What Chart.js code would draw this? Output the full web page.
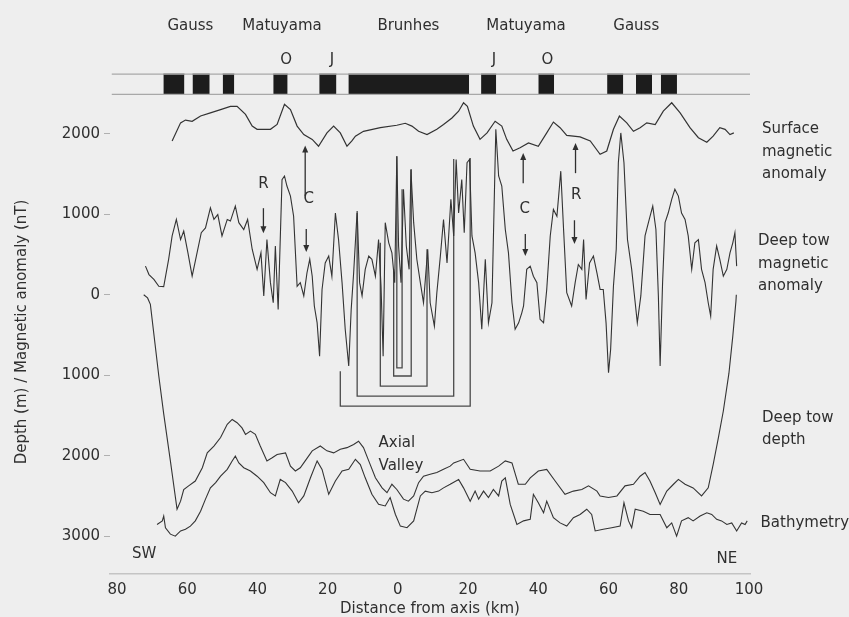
<!DOCTYPE html>
<html>
<head>
<meta charset="utf-8">
<script src="https://cdn.jsdelivr.net/npm/chart.js@4.4.0/dist/chart.umd.min.js"></script>
<style>
  html, body { margin: 0; padding: 0; background: #eeeeee; }
  #wrap { width: 849px; height: 617px; }
</style>
</head>
<body>
<div id="wrap"><canvas id="profile" width="849" height="617"></canvas></div>
<script>
// [distance from axis (km, SW negative), value]
const surfaceAnomaly = [
  [-64.3,1910],[-61.9,2135],[-60.5,2170],[-58.6,2155],[-56.2,2220],[-53.4,2260],[-50.5,2300],[-47.7,2340],
  [-45.8,2340],[-43.4,2240],[-41.5,2095],[-40.1,2055],[-36.3,2055],[-34.4,2115],[-32.3,2365],[-30.6,2300],
  [-28.7,2095],[-26.8,1990],[-24.4,1930],[-22.6,1845],[-20.2,2010],[-18.3,2095],[-16.4,2010],[-14.5,1845],
  [-13.1,1910],[-12.1,1970],[-9.8,2030],[-5.0,2075],[-0.3,2105],[2.1,2130],[4.0,2095],[5.9,2030],
  [8.3,1990],[11.1,2055],[13.0,2115],[15.4,2195],[17.3,2280],[18.7,2385],[19.8,2340],[21.5,2095],
  [23.4,1930],[25.4,2010],[27.7,2155],[29.6,2095],[31.0,1930],[32.8,1785],[34.8,1825],[37.2,1885],
  [40.0,1845],[42.4,2010],[44.3,2145],[46.2,2075],[48.1,1980],[51.9,1960],[54.8,1910],[57.6,1745],
  [59.5,1785],[61.4,2055],[63.1,2220],[65.2,2135],[67.1,2030],[69.0,2075],[70.9,2135],[73.3,2115],
  [75.6,2280],[78.0,2385],[80.4,2260],[83.2,2075],[85.6,1950],[88.0,1895],[89.8,1970],[91.7,2075],
  [93.2,2055],[94.6,1990],[95.7,2010]
];

const deepTowAnomaly = [
  [-71.9,355],[-70.9,250],[-69.5,190],[-68.1,105],[-66.7,100],[-65.3,440],[-64.3,730],[-63.1,935],
  [-61.9,685],[-61.0,790],[-59.8,520],[-58.6,230],[-57.4,480],[-56.0,770],[-54.8,830],[-53.4,1080],
  [-52.4,935],[-51.3,995],[-50.1,730],[-48.6,935],[-47.7,915],[-46.3,1100],[-45.3,895],[-43.9,810],
  [-42.8,935],[-41.5,565],[-40.1,315],[-39.0,520],[-38.2,-15],[-37.3,685],[-36.3,150],[-35.5,-100],
  [-34.9,605],[-34.1,-185],[-33.0,1430],[-32.3,1475],[-31.6,1350],[-30.6,1225],[-29.7,975],[-28.7,105],
  [-27.8,150],[-26.8,-15],[-25.9,270],[-25.1,440],[-24.4,230],[-23.8,-140],[-23.0,-350],[-22.3,-765],
  [-21.6,65],[-20.7,395],[-19.7,480],[-18.8,230],[-17.8,1015],[-16.9,685],[-15.9,150],[-15.0,-430],
  [-14.0,-885],[-13.3,-185],[-12.6,270],[-11.6,1040],[-10.9,150],[-10.2,-15],[-9.3,315],[-8.3,480],
  [-7.4,440],[-6.4,230],[-5.5,685],[-4.8,105],[-4.2,-765],[-3.6,895],[-2.6,645],[-1.7,520],
  [-0.9,150],[-0.3,1720],[0.2,605],[0.9,150],[1.6,1310],[2.4,605],[3.2,315],[3.7,1555],
  [4.5,895],[5.4,440],[6.4,150],[7.3,-100],[8.5,565],[9.2,-100],[10.4,-390],[11.1,25],
  [12.1,480],[13.0,935],[14.0,395],[15.1,1185],[15.9,730],[16.6,1680],[17.3,1015],[18.2,1430],
  [18.9,770],[19.7,1640],[20.4,1680],[21.1,730],[22.0,520],[23.0,150],[23.9,-430],[24.9,440],
  [25.8,-350],[26.8,-100],[27.9,2055],[28.7,1475],[29.6,1350],[30.6,810],[31.5,520],[32.5,-100],
  [33.4,-430],[34.4,-350],[35.3,-225],[35.8,-140],[36.7,315],[37.7,355],[38.6,230],[39.6,150],
  [40.5,-305],[41.5,-350],[42.4,65],[43.4,730],[44.3,1060],[45.3,975],[46.4,1535],[47.2,810],
  [48.1,25],[49.5,-140],[50.5,150],[51.4,375],[52.4,315],[52.9,685],[53.6,-60],[54.6,395],
  [55.7,480],[56.7,270],[57.6,65],[58.5,65],[59.3,-350],[60.0,-970],[60.6,-680],[61.4,105],
  [62.2,565],[62.8,1640],[63.5,2010],[64.4,1640],[65.4,685],[66.6,315],[67.6,-100],[68.2,-350],
  [69.2,-15],[70.4,730],[71.6,935],[72.6,1100],[73.5,810],[74.2,-15],[74.7,-885],[75.4,150],
  [76.1,895],[77.0,1015],[78.0,1185],[78.9,1310],[79.9,1225],[80.8,1015],[81.8,935],[82.7,730],
  [83.7,315],[84.6,645],[85.6,685],[86.5,315],[87.5,150],[88.4,-100],[89.1,-265],[89.8,315],
  [90.8,605],[91.7,440],[92.7,230],[93.7,315],[94.6,520],[95.4,645],[96.0,770],[96.5,355]
];

// depths in metres (positive down)
const deepTowDepth = [
  [-72.4,0],[-71.3,40],[-70.5,120],[-68.1,1010],[-66.7,1480],[-64.8,2065],[-62.9,2665],[-61.9,2565],
  [-61.0,2420],[-59.6,2375],[-57.7,2315],[-55.7,2150],[-54.3,1965],[-52.4,1880],[-50.5,1775],[-48.6,1610],
  [-47.2,1550],[-45.8,1590],[-44.4,1655],[-43.4,1735],[-42.0,1695],[-40.6,1735],[-39.2,1880],[-37.3,2065],
  [-35.8,2025],[-34.4,1985],[-32.0,1965],[-30.6,2130],[-29.2,2190],[-27.8,2150],[-26.4,2065],[-24.4,1940],
  [-22.1,1880],[-20.2,1940],[-18.3,1965],[-16.4,1920],[-14.5,1900],[-12.6,1860],[-11.2,1820],[-9.8,1900],
  [-8.3,2065],[-6.4,2275],[-4.5,2400],[-3.1,2460],[-1.7,2355],[-0.3,2420],[1.6,2540],[3.0,2565],
  [4.5,2500],[5.9,2335],[7.3,2255],[9.2,2230],[11.1,2210],[13.0,2170],[14.9,2130],[15.9,2090],
  [18.7,2045],[20.6,2170],[23.4,2190],[26.3,2190],[28.7,2130],[30.6,2065],[32.5,2090],[34.3,2355],
  [36.3,2355],[37.7,2275],[40.0,2190],[42.4,2170],[44.8,2315],[47.6,2480],[50.0,2440],[52.4,2420],
  [54.3,2375],[56.7,2440],[57.6,2500],[60.0,2520],[62.4,2500],[64.7,2375],[67.1,2355],[69.0,2255],
  [70.4,2210],[71.8,2315],[73.3,2460],[74.7,2605],[76.6,2440],[78.5,2355],[79.9,2295],[81.8,2355],
  [84.1,2400],[86.5,2500],[88.4,2400],[89.8,2110],[91.3,1775],[92.7,1445],[94.3,975],[95.4,515],
  [96.3,80],[96.4,0]
];

const bathymetry = [
  [-68.6,2855],[-67.1,2810],[-66.7,2750],[-66.2,2895],[-64.8,2975],[-63.4,3000],[-61.9,2935],[-60.5,2915],
  [-59.1,2875],[-57.7,2810],[-56.2,2690],[-54.8,2540],[-53.4,2400],[-51.9,2335],[-50.5,2255],[-48.6,2170],
  [-47.2,2065],[-46.3,2005],[-45.3,2090],[-43.9,2150],[-42.0,2190],[-40.1,2255],[-38.2,2335],[-36.3,2460],
  [-34.9,2500],[-33.5,2295],[-32.0,2335],[-30.1,2440],[-28.3,2585],[-26.8,2500],[-24.9,2275],[-23.0,2065],
  [-21.6,2170],[-19.7,2480],[-17.8,2315],[-15.9,2190],[-14.0,2170],[-12.1,2045],[-10.7,2110],[-9.3,2275],
  [-7.4,2480],[-5.5,2605],[-3.6,2625],[-2.2,2520],[-0.7,2730],[0.7,2875],[2.6,2895],[4.5,2810],
  [6.4,2500],[7.8,2440],[9.7,2460],[11.6,2440],[13.0,2400],[14.9,2355],[17.3,2295],[18.7,2400],
  [20.6,2565],[22.0,2440],[23.0,2540],[24.4,2440],[25.8,2520],[27.2,2420],[28.7,2500],[29.6,2315],
  [30.6,2275],[32.0,2605],[33.9,2855],[35.8,2810],[37.7,2790],[38.6,2480],[40.0,2585],[41.5,2710],
  [42.4,2565],[44.3,2770],[46.2,2835],[48.1,2875],[50.0,2770],[51.9,2730],[53.8,2665],[55.2,2730],
  [56.2,2935],[58.5,2915],[60.9,2895],[63.3,2875],[64.4,2585],[65.7,2810],[66.6,2895],[67.6,2665],
  [69.9,2690],[71.8,2730],[74.7,2730],[76.6,2895],[78.0,2835],[79.4,3000],[80.8,2810],[82.7,2770],
  [84.1,2810],[86.1,2750],[88.0,2710],[89.4,2730],[90.8,2790],[92.2,2810],[93.7,2855],[95.1,2835],
  [96.5,2935],[97.9,2835],[98.9,2855],[99.5,2810]
];

// normal polarity blocks (km)
const normalStart = [-66.8, -58.5, -49.9, -35.5, -22.4, -14.1, 23.7, 40.0, 59.6, 67.8, 74.9];
const normalEnd   = [-60.8, -53.6, -46.6, -31.4, -17.5, 20.3, 28.0, 44.5, 64.2, 72.4, 79.5];

// correlation brackets between symmetric anomalies
const bracketLeftKm   = [-16.4, -11.6, -5.0, -1.2, -0.3];
const bracketRightKm  = [20.6, 15.9, 8.3, 3.8, 1.2];
const bracketBottom   = [-1385, -1260, -1135, -1010, -910];
const bracketTopLeft  = [-950, 1015, 645, 320, 1720];
const bracketTopRight = [1700, 1685, 565, 1560, 1310];

const chronNames = ['Gauss', 'Matuyama', 'Brunhes', 'Matuyama', 'Gauss'];
const chronKm = [-59.1, -33.0, 3.0, 36.5, 67.9];
const eventNames = ['O', 'J', 'J', 'O'];
const eventKm = [-31.8, -18.8, 27.4, 42.6];

// arrows: x (km), tail and head (nT)
const arrowKm   = [-38.3, -26.4, -26.1, 35.7, 36.3, 50.6, 50.3];
const arrowFrom = [1075, 1225, 815, 1385, 755, 1510, 925];
const arrowTo   = [765, 1855, 530, 1760, 480, 1885, 630];
const arrowTags = ['R', 'C', 'C', 'R'];
const arrowTagKm = [-38.3, -25.4, 36.1, 50.8];
const arrowTagY = [1370, 1185, 1060, 1235];

const xTicks = [-80, -60, -40, -20, 0, 20, 40, 60, 80, 100];
const yTicks = [2000, 1000, 0, -1000, -2000, -3000];

const INK = '#2f2f2f';
const FONT = '15px "DejaVu Sans"';
const STRIP_TOP = 2740, STRIP_BOTTOM = 2490;

Chart.defaults.font.family = '"DejaVu Sans"';
Chart.defaults.font.size = 15;
Chart.defaults.color = INK;

function curve(pts, sign) {
    return pts.map(p => ({ x: p[0], y: sign * p[1] }));
}

function lineSet(data, color, width) {
    return { data: data, borderColor: color, borderWidth: width, pointRadius: 0, fill: false, tension: 0 };
}

const datasets = [];

// polarity strip outline
datasets.push(lineSet([{ x: -81.5, y: STRIP_TOP }, { x: 100.3, y: STRIP_TOP }], '#a8a8a8', 1.2));
datasets.push(lineSet([{ x: -81.5, y: STRIP_BOTTOM }, { x: 100.3, y: STRIP_BOTTOM }], '#a8a8a8', 1.2));
normalStart.forEach((s, i) => {
    datasets.push({
        data: [{ x: s, y: STRIP_TOP }, { x: normalEnd[i], y: STRIP_TOP }],
        borderColor: '#1c1c1c', borderWidth: 1, pointRadius: 0,
        backgroundColor: '#1c1c1c', fill: { value: STRIP_BOTTOM }
    });
});

datasets.push(lineSet(curve(surfaceAnomaly, 1), '#333', 1.2));
datasets.push(lineSet(curve(deepTowAnomaly, 1), '#333', 1.1));
datasets.push(lineSet(curve(deepTowDepth, -1), '#333', 1.1));
datasets.push(lineSet(curve(bathymetry, -1), '#333', 1.1));

bracketLeftKm.forEach((l, i) => {
    datasets.push(lineSet([
        { x: l, y: bracketTopLeft[i] },
        { x: l, y: bracketBottom[i] },
        { x: bracketRightKm[i], y: bracketBottom[i] },
        { x: bracketRightKm[i], y: bracketTopRight[i] }
    ], '#4a4a4a', 1.3));
});

// text, arrows and axis titles
const overlay = {
    id: 'overlay',
    afterDraw(chart) {
        const ctx = chart.ctx;
        const xs = chart.scales.x, ys = chart.scales.y;
        const px = v => xs.getPixelForValue(v);
        const py = v => ys.getPixelForValue(v);
        ctx.save();
        ctx.fillStyle = INK;
        ctx.strokeStyle = INK;
        ctx.font = FONT;
        ctx.textAlign = 'center';
        ctx.textBaseline = 'middle';

        chronNames.forEach((n, i) => ctx.fillText(n, px(chronKm[i]), py(3335)));
        eventNames.forEach((n, i) => ctx.fillText(n, px(eventKm[i]), py(2910)));
        arrowTags.forEach((n, i) => ctx.fillText(n, px(arrowTagKm[i]), py(arrowTagY[i])));
        ctx.fillText('SW', px(-72.3), py(-3225));
        ctx.fillText('NE', px(93.7), py(-3290));

        ctx.lineWidth = 1.3;
        arrowKm.forEach((k, i) => {
            const X = px(k), y0 = py(arrowFrom[i]), y1 = py(arrowTo[i]);
            const dir = y1 > y0 ? 1 : -1;
            ctx.beginPath();
            ctx.moveTo(X, y0);
            ctx.lineTo(X, y1 - dir * 3);
            ctx.stroke();
            ctx.beginPath();
            ctx.moveTo(X, y1);
            ctx.lineTo(X - 3, y1 - dir * 7);
            ctx.lineTo(X + 3, y1 - dir * 7);
            ctx.closePath();
            ctx.fill();
        });

        // curve names on the right
        ctx.textAlign = 'left';
        const names = [
            { lines: ['Surface', 'magnetic', 'anomaly'], km: 103.7, y: 2055 },
            { lines: ['Deep tow', 'magnetic', 'anomaly'], km: 102.6, y: 665 },
            { lines: ['Deep tow', 'depth'], km: 103.7, y: -1530 },
            { lines: ['Bathymetry'], km: 103.3, y: -2835 }
        ];
        names.forEach(n => {
            n.lines.forEach((t, j) => ctx.fillText(t, px(n.km), py(n.y) + j * 22.5));
        });
        ctx.fillText('Axial', px(-5.5), py(-1840));
        ctx.fillText('Valley', px(-5.5), py(-2130));

        // axis titles
        ctx.textAlign = 'center';
        ctx.fillText('Distance from axis (km)', 430, 609);
        ctx.translate(22, 332);
        ctx.rotate(-Math.PI / 2);
        ctx.fillText('Depth (m) / Magnetic anomaly (nT)', 0, 0);
        ctx.restore();
    }
};

new Chart(document.getElementById('profile'), {
    type: 'line',
    data: { datasets: datasets },
    options: {
        responsive: false,
        animation: false,
        events: [],
        layout: { padding: { left: 50, right: 99, top: 12, bottom: 11 } },
        plugins: { legend: { display: false }, tooltip: { enabled: false } },
        scales: {
            x: {
                type: 'linear',
                min: -82,
                max: 100.3,
                afterBuildTicks: scale => { scale.ticks = xTicks.map(v => ({ value: v })); },
                ticks: { padding: 7, maxRotation: 0, callback: v => Math.abs(v) },
                grid: { display: false, drawTicks: false },
                border: { display: true, color: '#c4c4c4', width: 1.5 }
            },
            y: {
                min: -3470,
                max: 3500,
                afterFit: scale => { scale.width = 60; },
                afterBuildTicks: scale => { scale.ticks = yTicks.map(v => ({ value: v })); },
                ticks: { padding: 4, callback: v => Math.abs(v) },
                grid: { drawOnChartArea: false, tickLength: 6, color: '#b0b0b0' },
                border: { display: false }
            }
        }
    },
    plugins: [overlay]
});
</script>
</body>
</html>
